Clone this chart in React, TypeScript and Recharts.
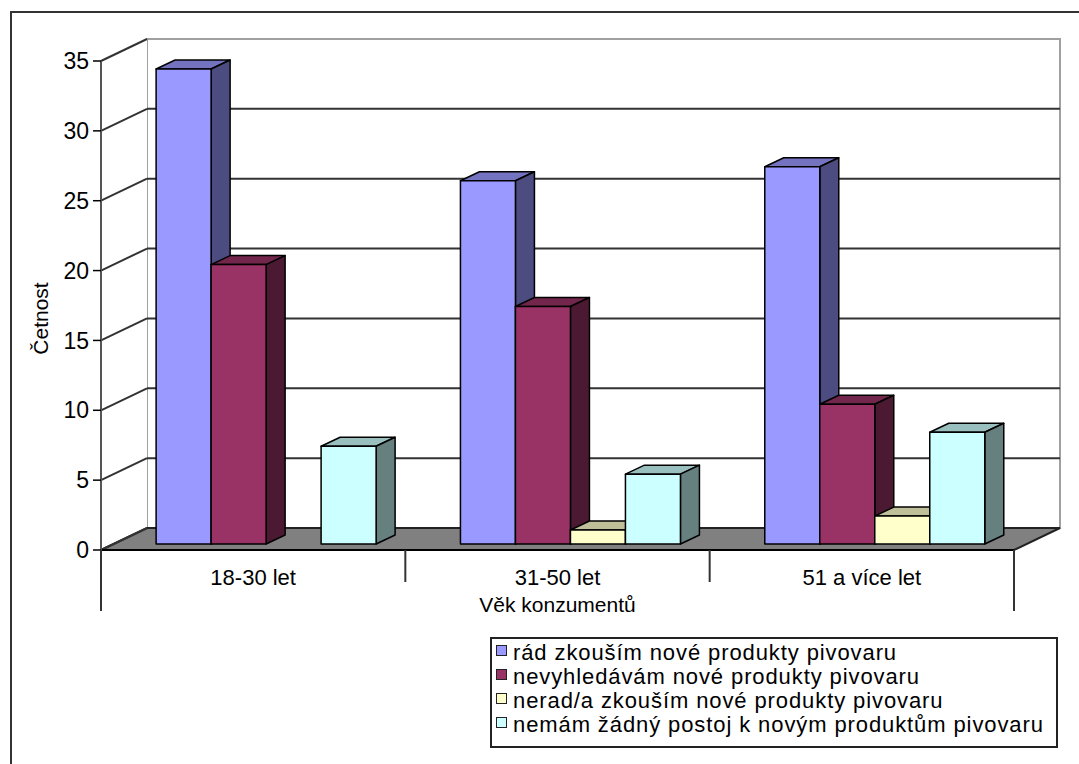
import { BarChart, Bar, XAxis, YAxis, CartesianGrid } from 'recharts';

const groups = ['18-30 let', '31-50 let', '51 a více let'];
const radZkousim = [34, 26, 27];
const nevyhledavam = [20, 17, 10];
const neradZkousim = [0, 1, 2];
const zadnyPostoj = [7, 5, 8];
const seriesNames = [
  'rád zkouším nové produkty pivovaru',
  'nevyhledávám nové produkty pivovaru',
  'nerad/a zkouším nové produkty pivovaru',
  'nemám žádný postoj k novým produktům pivovaru',
];
const yTicks = [0, 5, 10, 15, 20, 25, 30, 35];

const data = groups.map((group, i) => ({
  group,
  s1: radZkousim[i],
  s2: nevyhledavam[i],
  s3: neradZkousim[i],
  s4: zadnyPostoj[i],
}));

// front / top / side shading per series
const palette = [
  { front: '#9999ff', top: '#7373bf', side: '#4c4c80' },
  { front: '#993366', top: '#73264c', side: '#4c1933' },
  { front: '#ffffcc', top: '#bfbf99', side: '#808066' },
  { front: '#ccffff', top: '#99bfbf', side: '#668080' },
];

const FONT = '"Liberation Sans", Arial, sans-serif';
// wall depth
const WX = 46;
const WY = -22;
// bars sit partway into the floor
const BX = 12.5;
const BY = -6;
// bar depth
const DX = 19;
const DY = -9;

function makeBox(colors: { front: string; top: string; side: string }) {
  return (props: any) => {
    const { x, y, width, height } = props;
    if (!height || height <= 0) return <g />;
    const x0 = x + BX;
    const y0 = y + BY;
    const w = width;
    const h = height;
    return (
      <g stroke="#000" strokeWidth={1.5} strokeLinejoin="round">
        <polygon
          points={`${x0},${y0} ${x0 + DX},${y0 + DY} ${x0 + w + DX},${y0 + DY} ${x0 + w},${y0}`}
          fill={colors.top}
        />
        <polygon
          points={`${x0 + w},${y0} ${x0 + w + DX},${y0 + DY} ${x0 + w + DX},${y0 + h + DY} ${x0 + w},${y0 + h}`}
          fill={colors.side}
        />
        <rect x={x0} y={y0} width={w} height={h} fill={colors.front} />
      </g>
    );
  };
}

// walls, floor and the gridlines running along them
function wallLine(props: any) {
  const { x1, y1, x2, index, x, y, width, height } = props;
  const left = x;
  const right = x + width;
  const top = y;
  const bottom = y + height;
  const isTop = Math.abs(y1 - top) < 0.5;
  const isBottom = Math.abs(y1 - bottom) < 0.5;
  return (
    <g key={`wall-${index}`}>
      {index === 0 && (
        <g>
          <rect x={left + WX} y={top + WY} width={width} height={height} fill="#fff" stroke="#a0a0a0" strokeWidth={2} />
          <polygon
            points={`${left},${top} ${left + WX},${top + WY} ${left + WX},${bottom + WY} ${left},${bottom}`}
            fill="#fff"
          />
          <polygon
            points={`${left},${bottom} ${right},${bottom} ${right + WX},${bottom + WY} ${left + WX},${bottom + WY}`}
            fill="#808080"
            stroke="#222"
            strokeWidth={2}
          />
        </g>
      )}
      <line x1={x1} y1={y1} x2={x1 + WX} y2={y1 + WY} stroke="#333" strokeWidth={2} />
      {!isTop && !isBottom && (
        <line x1={x1 + WX} y1={y1 + WY} x2={x2 + WX} y2={y1 + WY} stroke="#333" strokeWidth={2} />
      )}
    </g>
  );
}

// category label plus the separators on either side of its band
function GroupTick(props: any) {
  const { x, y, payload, index } = props;
  const half = payload.offset || 0;
  const last = index === groups.length - 1;
  return (
    <g>
      <line x1={x - half} y1={y} x2={x - half} y2={y + (index === 0 ? 61 : 32)} stroke="#333" strokeWidth={2} />
      {last && <line x1={x + half} y1={y} x2={x + half} y2={y + 61} stroke="#333" strokeWidth={2} />}
      <text x={x} y={y + 17} dy="0.8em" textAnchor="middle" fontSize={22} fontFamily={FONT} fill="#000">
        {payload.value}
      </text>
    </g>
  );
}

export default function App() {
  return (
    <div
      style={{
        position: 'absolute',
        left: 0,
        top: 0,
        width: 1079,
        height: 764,
        overflow: 'hidden',
        background: '#fff',
        fontFamily: FONT,
      }}
    >
      <div
        style={{
          position: 'absolute',
          left: 10,
          top: 11,
          width: 1200,
          height: 900,
          border: '2px solid #333',
        }}
      />
      <div style={{ position: 'absolute', left: 0, top: 0 }}>
        <BarChart
          width={1079}
          height={764}
          data={data}
          margin={{ top: 61, right: 65, bottom: 213, left: 0 }}
          barCategoryGap="14%"
          barGap={0}
        >
          <CartesianGrid vertical={false} horizontal={wallLine} stroke="none" />
          <XAxis
            dataKey="group"
            height={1}
            axisLine={{ stroke: '#000', strokeWidth: 2 }}
            tickLine={false}
            tickSize={0}
            tickMargin={0}
            interval={0}
            tick={<GroupTick />}
            label={{
              value: 'Věk konzumentů',
              position: 'bottom',
              offset: 46,
              fill: '#000',
              fontSize: 21,
              fontFamily: FONT,
            }}
          />
          <YAxis
            domain={[0, 35]}
            ticks={yTicks}
            width={101}
            axisLine={{ stroke: '#555', strokeWidth: 2 }}
            tickLine={{ stroke: '#000', strokeWidth: 1.5 }}
            tickSize={8}
            tickMargin={4}
            tick={{ fill: '#000', fontSize: 23, fontFamily: FONT }}
            label={{
              value: 'Četnost',
              content: ({ viewBox }: any) => (
                <text
                  x={viewBox.x + 48}
                  y={viewBox.y + viewBox.height / 2 + 13}
                  transform={`rotate(-90, ${viewBox.x + 48}, ${viewBox.y + viewBox.height / 2 + 13})`}
                  textAnchor="middle"
                  fontSize={21}
                  fontFamily={FONT}
                  fill="#000"
                >
                  Četnost
                </text>
              ),
            }}
          />
          {['s1', 's2', 's3', 's4'].map((key, i) => (
            <Bar
              key={key}
              dataKey={key}
              name={seriesNames[i]}
              fill={palette[i].front}
              shape={makeBox(palette[i])}
              isAnimationActive={false}
            />
          ))}
        </BarChart>
      </div>
      <div
        style={{
          position: 'absolute',
          left: 490,
          top: 637,
          width: 568,
          height: 111,
          border: '2px solid #222',
          background: '#fff',
          padding: '2px 0 0 4px',
          boxSizing: 'border-box',
        }}
      >
        {seriesNames.map((name, i) => (
          <div
            key={name}
            style={{
              display: 'flex',
              alignItems: 'flex-start',
              height: 24,
              lineHeight: '24px',
              fontSize: 22,
              letterSpacing: 0.9,
              color: '#000',
            }}
          >
            <span
              style={{
                display: 'inline-block',
                width: 9,
                height: 9,
                marginTop: 4,
                marginRight: 6,
                background: palette[i].front,
                border: '1.5px solid #222',
                flex: 'none',
              }}
            />
            <span style={{ whiteSpace: 'nowrap' }}>{name}</span>
          </div>
        ))}
      </div>
    </div>
  );
}
